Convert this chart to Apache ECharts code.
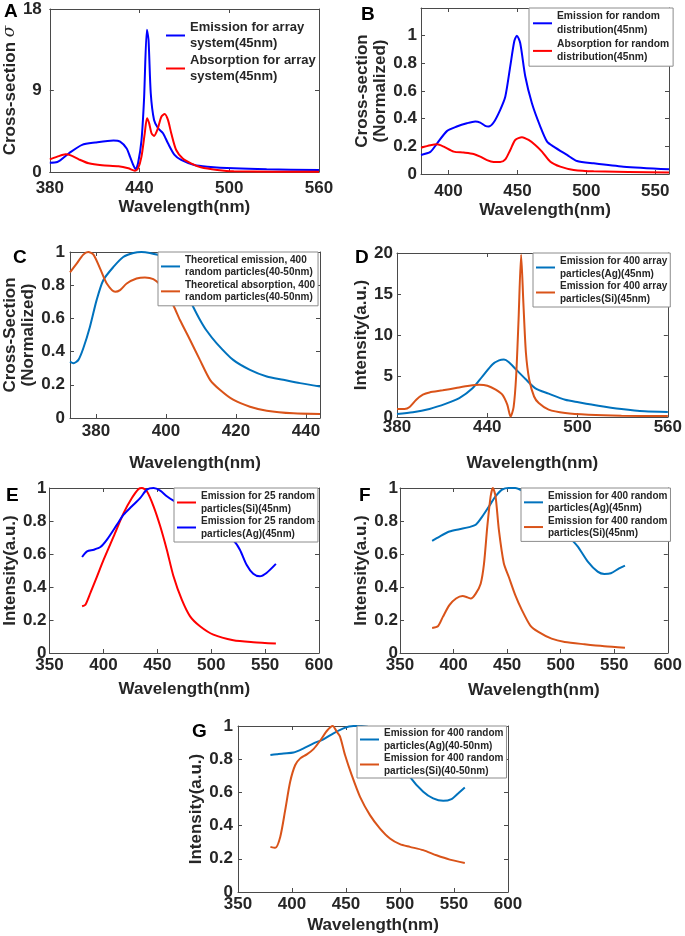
<!DOCTYPE html>
<html>
<head>
<meta charset="utf-8">
<script src="https://cdn.jsdelivr.net/npm/echarts@6/dist/echarts.min.js"></script>
<style>
html,body{margin:0;padding:0;background:#fff;}
#chart{width:685px;height:936px;}
</style>
</head>
<body>
<div id="chart"></div>
<script>
// ---------------- DATA ----------------
// Panel A
const aEmiX = [380,385,392.8,401.6,410.4,422.6,427,431.4,433.6,435.8,437.4,439,441.3,443,444.9,446,447.5,449.7,452.4,455.7,459,463.4,467.8,476.6,485.4,503,525,560];
const aEmiY = [1.03,1.1,2.07,3.0,3.25,3.47,3.36,2.6,1.7,0.77,0.3,0.96,3.5,8,15.7,14.6,8.7,5.75,4.83,4.28,3.17,1.88,1.33,0.77,0.59,0.41,0.3,0.22];
const aAbsX = [380,385,390.6,394,399.4,406,414.9,425.9,432.5,436.9,439,441.3,443.5,445,446.4,448,449.7,451.9,454.6,456.8,459,461.2,464.5,468.9,474.4,481,492,503,560];
const aAbsY = [1.4,1.7,1.95,1.84,1.4,0.96,0.74,0.63,0.41,0.15,0.4,1.7,4.3,5.94,5.4,4.28,3.98,4.65,6.1,6.4,5.75,4.28,2.43,1.5,0.96,0.52,0.22,0.07,0.02];
// Panel B
const bEmiX = [380,386.8,391.6,398.8,406,413.3,419.4,423,426.6,429,432.7,437.5,441.2,444.8,447.7,449.6,452,455.7,460.5,466.6,471.5,476.3,486,493.2,505.3,527,560];
const bEmiY = [0.138,0.16,0.22,0.31,0.343,0.367,0.38,0.372,0.348,0.343,0.372,0.464,0.56,0.78,0.96,1.0,0.947,0.705,0.512,0.343,0.234,0.198,0.138,0.094,0.077,0.053,0.034];
const bAbsX = [380,386.8,391.6,396.5,403.7,411,418.2,423,427.9,432.7,437.5,441.2,444.8,448.4,453.3,458.1,462.9,467.8,473.9,481.1,490.8,505.3,560];
const bAbsY = [0.19,0.208,0.215,0.198,0.162,0.155,0.145,0.126,0.1,0.087,0.087,0.106,0.174,0.246,0.266,0.246,0.21,0.162,0.089,0.053,0.029,0.019,0.01];
// Panel C
const cEmiX = [372.6,373.6,375,376.4,378.3,380.2,382.1,385,387.8,390.7,393,395.4,398.3,401,403,405,407.3,409.5,411.6,414.5,419.2,424,428.8,433.5,438.3,444];
const cEmiY = [0.34,0.33,0.35,0.42,0.55,0.71,0.83,0.91,0.97,0.994,1.0,0.994,0.978,0.93,0.87,0.79,0.69,0.6,0.527,0.45,0.35,0.29,0.25,0.23,0.21,0.19];
const cAbsX = [372.6,374.5,376.4,377.8,379.3,381.2,383.1,385.5,386.9,388.8,391.6,394,396.4,398.5,400.5,402.3,404,406.9,409.7,412.6,415.4,419.2,424,428.8,436.4,444];
const cAbsY = [0.877,0.93,0.984,1.0,0.984,0.9,0.81,0.76,0.77,0.81,0.84,0.847,0.837,0.8,0.74,0.67,0.59,0.47,0.35,0.23,0.17,0.11,0.068,0.044,0.028,0.024];
// Panel D
const dAgX = [380,390.6,401.6,412.6,421.4,430.2,436.8,443.4,447.8,451.1,454.4,458.8,465.4,472,480.8,491.8,500.6,513.8,529.2,544.6,560];
const dAgY = [0.37,0.57,0.98,1.63,2.3,3.5,4.96,6.4,6.9,7.0,6.67,5.85,4.63,3.5,2.85,2.1,1.8,1.38,0.98,0.7,0.61];
const dSiX = [380,385,388.4,392.8,397.2,401.6,410.4,419.2,428,434.6,440.1,445.6,450,453.3,455.5,457.5,459.2,460.8,462.5,464,465.7,467.9,471.1,474.2,480.8,491.8,507.2,529.2,560];
const dSiY = [0.98,0.98,1.22,2.1,2.72,3.0,3.25,3.54,3.82,3.94,3.82,3.33,2.72,1.5,0.05,1.2,5.0,11.9,19.8,13.9,7.8,4.55,2.5,1.7,0.9,0.49,0.28,0.16,0.12];
// Panel E
const eSiX = [380.2,383.3,387.9,394.1,400.2,409.5,418.7,426.4,432.6,435.7,440.3,446.5,452.7,458.8,465,472.7,480.4,489.6,502,520.5,539,560];
const eSiY = [0.283,0.293,0.364,0.465,0.566,0.707,0.848,0.939,0.994,1.0,0.98,0.889,0.768,0.626,0.465,0.323,0.222,0.162,0.111,0.077,0.065,0.057];
const eAgX = [380.2,384.8,391,397.2,403.3,412.6,418.7,426.4,434.2,440.3,446.5,452.7,458.8,465,480,495,510,520.5,526.6,532.8,539,545.1,551.3,560];
const eAgY = [0.582,0.616,0.626,0.642,0.687,0.778,0.838,0.889,0.94,0.99,1.0,0.984,0.95,0.923,0.87,0.8,0.73,0.683,0.626,0.535,0.48,0.465,0.485,0.54];
// Panel F
const fAgX = [380,386.9,396.1,405.4,414.6,420.7,426.9,433,439.2,445.3,451.5,457.6,465,480,495,509.9,516,525.3,534.5,540.7,546.8,554.5,560];
const fAgY = [0.68,0.706,0.736,0.75,0.763,0.777,0.828,0.888,0.949,0.99,1.0,1.0,0.98,0.92,0.81,0.69,0.645,0.554,0.493,0.479,0.483,0.513,0.53];
const fSiX = [380,385.4,390,396.1,402.3,408.4,413,416.1,420.7,425.3,428.4,431.5,434.6,436.7,439.2,442.3,446.9,451.5,457.6,463.8,471.5,479.2,491.5,503.8,522.2,540.7,560];
const fSiY = [0.152,0.162,0.219,0.29,0.33,0.345,0.337,0.33,0.36,0.42,0.54,0.767,0.949,1.0,0.949,0.746,0.544,0.462,0.351,0.26,0.168,0.128,0.087,0.067,0.053,0.041,0.032];
// Panel G
const gAgX = [380,386,392.2,401.4,410.7,419.9,429.1,438.4,447.6,456.8,464.5,475,490,500,509.2,521.5,530.7,540,547.7,553.8,560];
const gAgY = [0.825,0.83,0.835,0.84,0.865,0.895,0.92,0.956,0.986,1.0,1.0,0.98,0.9,0.8,0.694,0.604,0.564,0.549,0.56,0.594,0.63];
const gSiX = [380,384.5,389.1,393.7,398.3,403,407.6,413.7,419.9,426,432.2,437.7,441.4,444.5,449.1,455.3,463,472.2,481.5,490.7,499.9,509.2,521.5,533.8,546.1,560];
const gSiY = [0.272,0.266,0.332,0.493,0.664,0.765,0.805,0.829,0.861,0.911,0.97,1.0,0.966,0.936,0.825,0.704,0.573,0.463,0.382,0.322,0.288,0.272,0.252,0.221,0.195,0.175];

// Tick labels
const xTicksA = [380,440,500,560];
const xTicksB = [400,450,500,550];
const xTicksC = [380,400,420,440];
const xTicksD = [380,440,500,560];
const xTicksEFG = [350,400,450,500,550,600];
const yTicksA = [0,9,18];
const yTicksUnit = [0,0.2,0.4,0.6,0.8,1];
const yTicksD = [0,5,10,15,20];

// Legend names
const namesA = ['Emission for array\nsystem(45nm)','Absorption for array\nsystem(45nm)'];
const namesB = ['Emission for random\ndistribution(45nm)','Absorption for random\ndistribution(45nm)'];
const namesC = ['Theoretical emission, 400\nrandom particles(40-50nm)','Theoretical absorption, 400\nrandom particles(40-50nm)'];
const namesD = ['Emission for 400 array\nparticles(Ag)(45nm)','Emission for 400 array\nparticles(Si)(45nm)'];
const namesE = ['Emission for 25 random\nparticles(Si)(45nm)','Emission for 25 random\nparticles(Ag)(45nm)'];
const namesF = ['Emission for 400 random\nparticles(Ag)(45nm)','Emission for 400 random\nparticles(Si)(45nm)'];
const namesG = ['Emission for 400 random\nparticles(Ag)(40-50nm)','Emission for 400 random\nparticles(Si)(40-50nm)'];

// ---------------- STYLE / LAYOUT ----------------
const FONT = '"Liberation Sans", Arial, Helvetica, sans-serif';
const AX = '#4a4a4a';
const TXT = '#262626';
const BLUE = '#0000ff', RED = '#ff0000', MBLUE = '#0072BD', MORANGE = '#D95319';

const zip = (xs, ys) => xs.map((x, i) => [x, ys[i]]);

const panels = [
  {letter:'A', lx:12, ly:13, grid:{left:47,top:9,width:272,height:163},
   x:{min:380,max:560,ticks:xTicksA,margin:8,nameGap:26}, y:{min:0,max:18,ticks:yTicksA,margin:8,nameGap:26,name:'Cross-section {s|σ}'},
   series:[{n:namesA[0],x:aEmiX,y:aEmiY,c:BLUE},{n:namesA[1],x:aAbsX,y:aAbsY,c:RED}],
   legend:{left:166,top:19,lh:16.5,fs:13,gap:0,pad:0,border:false}},
  {letter:'B', lx:369, ly:16, grid:{left:421,top:8,width:248,height:166},
   x:{min:380,max:560,ticks:xTicksB,margin:9,nameGap:21}, y:{min:0,max:1.2,ticks:yTicksUnit,margin:4,nameGap:28,name:'Cross-section\n(Normalized)'},
   series:[{n:namesB[0],x:bEmiX,y:bEmiY,c:BLUE},{n:namesB[1],x:bAbsX,y:bAbsY,c:RED}],
   legend:{left:529,top:8,lh:13.3,fs:10.3,gap:1,pad:[2,4,2,4],border:true}},
  {letter:'C', lx:21, ly:259, grid:{left:70,top:252,width:250,height:166},
   x:{min:372.6,max:444,ticks:xTicksC,margin:5,nameGap:36}, y:{min:0,max:1,ticks:yTicksUnit,margin:5,nameGap:29,name:'Cross-Section\n(Normalized)'},
   series:[{n:namesC[0],x:cEmiX,y:cEmiY,c:MBLUE},{n:namesC[1],x:cAbsX,y:cAbsY,c:MORANGE}],
   legend:{left:158,top:252,lh:12.45,fs:10,gap:0,pad:[2,3,2,3],border:true}},
  {letter:'D', lx:363, ly:259, grid:{left:397,top:253,width:273,height:164},
   x:{min:380,max:560,ticks:xTicksD,margin:2,nameGap:37}, y:{min:0,max:20,ticks:yTicksD,margin:4,nameGap:22,name:'Intensity(a.u.)'},
   series:[{n:namesD[0],x:dAgX,y:dAgY,c:MBLUE},{n:namesD[1],x:dSiX,y:dSiY,c:MORANGE}],
   legend:{left:533,top:253,lh:12.5,fs:10,gap:0,pad:[2,3,2,3],border:true}},
  {letter:'E', lx:14, ly:497, grid:{left:49,top:488,width:270,height:165},
   x:{min:350,max:600,ticks:xTicksEFG,margin:4,nameGap:27}, y:{min:0,max:1,ticks:yTicksUnit,margin:3,nameGap:28,name:'Intensity(a.u.)'},
   series:[{n:namesE[0],x:eSiX,y:eSiY,c:RED},{n:namesE[1],x:eAgX,y:eAgY,c:BLUE}],
   legend:{left:174,top:488,lh:12.5,fs:10,gap:0,pad:[2,3,2,3],border:true}},
  {letter:'F', lx:367, ly:497, grid:{left:400,top:488,width:271,height:165},
   x:{min:350,max:600,ticks:xTicksEFG,margin:4,nameGap:28}, y:{min:0,max:1,ticks:yTicksUnit,margin:2,nameGap:25,name:'Intensity(a.u.)'},
   series:[{n:namesF[0],x:fAgX,y:fAgY,c:MBLUE},{n:namesF[1],x:fSiX,y:fSiY,c:MORANGE}],
   legend:{left:521,top:488,lh:12.35,fs:10,gap:0,pad:[2,3,2,3],border:true}},
  {letter:'G', lx:200, ly:733, grid:{left:238,top:726,width:270,height:166},
   x:{min:350,max:600,ticks:xTicksEFG,margin:4,nameGap:24}, y:{min:0,max:1,ticks:yTicksUnit,margin:5,nameGap:28,name:'Intensity(a.u.)'},
   series:[{n:namesG[0],x:gAgX,y:gAgY,c:MBLUE},{n:namesG[1],x:gSiX,y:gSiY,c:MORANGE}],
   legend:{left:357,top:726,lh:12.5,fs:10,gap:0,pad:[1,3,1,3],border:true}}
];

const grid = [], xAxis = [], yAxis = [], series = [], legend = [], graphic = [];
const nameStyle = {fontSize:17, fontWeight:'bold', color:TXT, fontFamily:FONT, lineHeight:18,
  rich:{s:{fontSize:17, fontStyle:'italic', fontWeight:'normal', fontFamily:'"DejaVu Serif", serif', color:TXT}}};
const labelStyle = {fontSize:17, fontWeight:'bold', color:TXT, fontFamily:FONT};

panels.forEach((p, i) => {
  grid.push(Object.assign({containLabel:false}, p.grid));
  const xi = xAxis.length, yi = yAxis.length;
  xAxis.push({type:'value', gridIndex:i, position:'bottom', min:p.x.min, max:p.x.max,
    axisLine:{show:true, onZero:false, lineStyle:{color:AX, width:1}},
    axisTick:{show:true, inside:true, length:4, lineStyle:{color:AX}, customValues:p.x.ticks},
    axisLabel:Object.assign({show:true, margin:p.x.margin, customValues:p.x.ticks, formatter:v=>String(v)}, labelStyle),
    splitLine:{show:false},
    name:'Wavelength(nm)', nameLocation:'middle', nameGap:p.x.nameGap, nameTextStyle:nameStyle});
  xAxis.push({type:'value', gridIndex:i, position:'top', min:p.x.min, max:p.x.max,
    axisLine:{show:true, onZero:false, lineStyle:{color:AX, width:1}},
    axisTick:{show:true, inside:true, length:4, lineStyle:{color:AX}, customValues:p.x.ticks},
    axisLabel:{show:false}, splitLine:{show:false}});
  yAxis.push({type:'value', gridIndex:i, position:'left', min:p.y.min, max:p.y.max,
    axisLine:{show:true, onZero:false, lineStyle:{color:AX, width:1}},
    axisTick:{show:true, inside:true, length:4, lineStyle:{color:AX}, customValues:p.y.ticks},
    axisLabel:Object.assign({show:true, margin:p.y.margin, customValues:p.y.ticks, formatter:v=>String(v)}, labelStyle),
    splitLine:{show:false},
    name:p.y.name, nameLocation:'middle', nameGap:p.y.nameGap, nameRotate:90, nameTextStyle:nameStyle});
  yAxis.push({type:'value', gridIndex:i, position:'right', min:p.y.min, max:p.y.max,
    axisLine:{show:true, onZero:false, lineStyle:{color:AX, width:1}},
    axisTick:{show:true, inside:true, length:4, lineStyle:{color:AX}, customValues:p.y.ticks},
    axisLabel:{show:false}, splitLine:{show:false}});
  p.series.forEach(s => {
    series.push({type:'line', name:s.n, xAxisIndex:xi, yAxisIndex:yi, data:zip(s.x, s.y),
      showSymbol:false, symbol:'none', smooth:0.25, clip:true,
      lineStyle:{color:s.c, width:2}, itemStyle:{color:s.c}});
  });
  const L = p.legend;
  legend.push({show:true, orient:'vertical', left:L.left, top:L.top, data:p.series.map(s=>s.n),
    icon:'rect', itemWidth:19, itemHeight:2, itemGap:L.gap, padding:L.pad, selectedMode:false,
    borderColor:L.border?'#8c8c8c':'transparent', borderWidth:L.border?1:0,
    backgroundColor:L.border?'#ffffff':'transparent',
    textStyle:{fontSize:L.fs, fontWeight:'bold', fontFamily:FONT, color:TXT, lineHeight:L.lh}});
  graphic.push({type:'text', left:p.lx - 8, top:p.ly - 11, z:10,
    style:{text:p.letter, fontSize:19, fontWeight:'bold', fontFamily:FONT, fill:'#000'}});
});

const chart = echarts.init(document.getElementById('chart'), null, {renderer:'canvas'});
chart.setOption({animation:false, backgroundColor:'#fff', grid, xAxis, yAxis, series, legend, graphic});
</script>
</body>
</html>
